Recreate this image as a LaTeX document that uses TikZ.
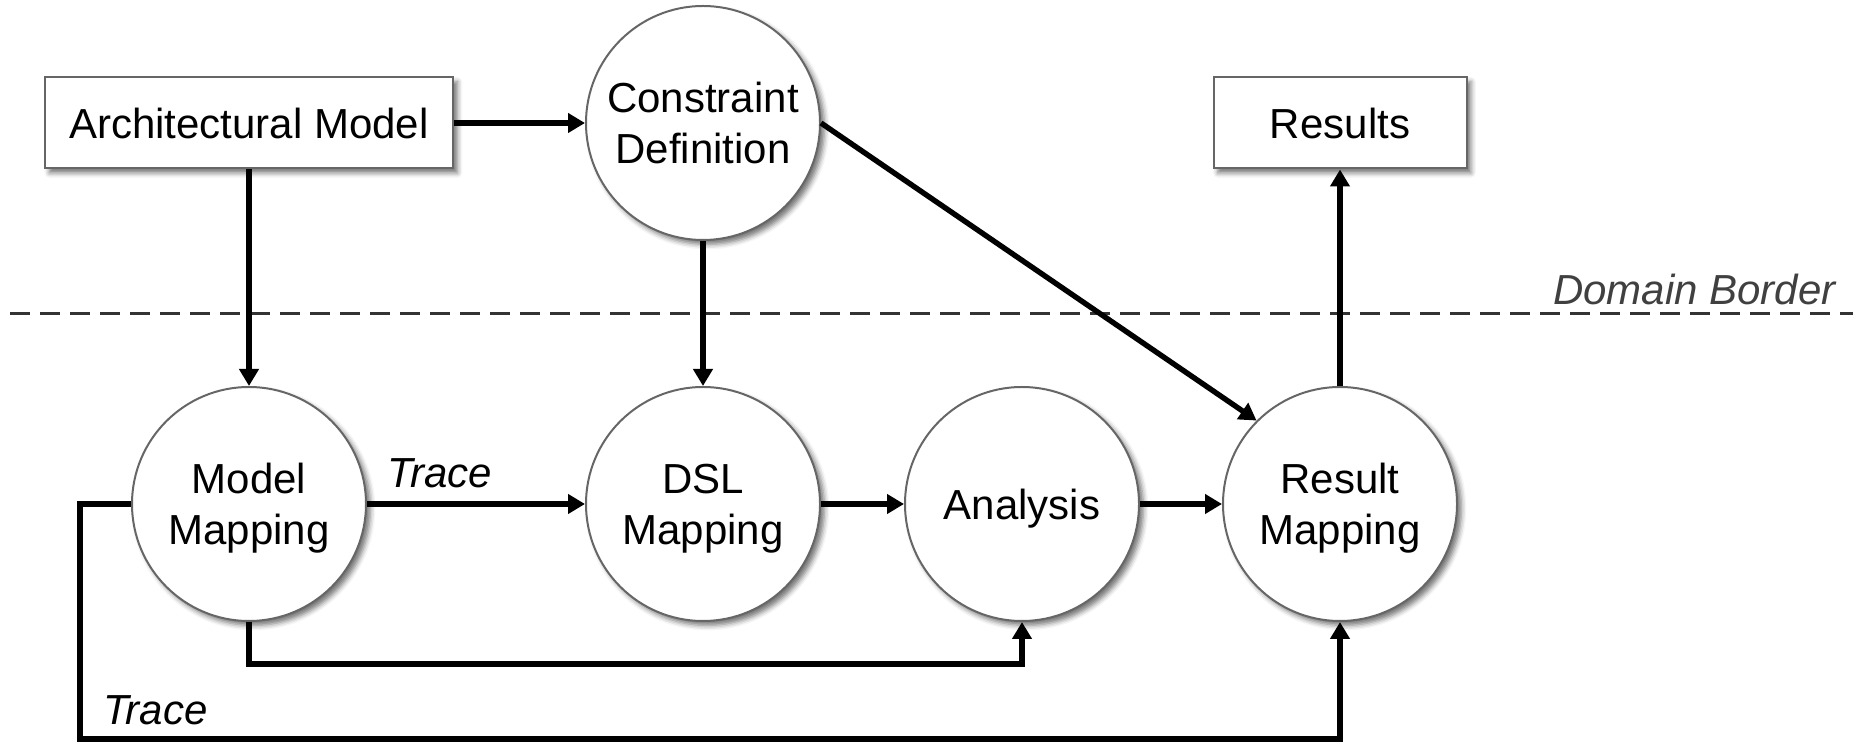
\documentclass[tikz,border=0pt]{standalone}
\usepackage{fontspec}
\setmainfont{Liberation Sans}
\usetikzlibrary{arrows.meta,shadows.blur,calc}
\begin{document}
\begin{tikzpicture}[x=0.5pt,y=-0.5pt,
  lbl/.style={font=\fontsize{21}{25.5}\selectfont, align=center, text=black},
  shd/.style={blur shadow={shadow xshift=2.2pt,shadow yshift=-2.2pt,shadow opacity=55,shadow blur radius=2.5pt}},
  boxnode/.style={lbl, shd, draw=black!60, line width=1pt, fill=white, rectangle, minimum height=45.5pt, inner sep=0pt},
  circnode/.style={lbl, shd, draw=black!60, line width=1pt, fill=white, circle, minimum size=117pt, inner sep=0pt, text depth=0pt},
  conn/.style={line width=2.7pt, draw=black, -{Triangle[length=8.5pt,width=9.5pt]}},
  tracelbl/.style={font=\fontsize{21}{25.5}\selectfont\itshape, inner sep=0pt, anchor=base west},
  border/.style={line width=1.5pt, draw=black!80, dash pattern=on 10pt off 5pt}
]
\useasboundingbox (0,0) rectangle (1853,742);

% domain border
\coordinate (dbL) at (10,314);
\coordinate (dbR) at (1853,314);
\draw[border] (dbL) -- (dbR);
\node[font=\fontsize{21}{25.5}\selectfont\itshape, text=black!75, inner sep=0pt, anchor=base east] (db) at (1836,305) {Domain Border};

% nodes
\node[boxnode, minimum width=204pt] (AM) at (249,123) {Architectural Model};
\node[boxnode, minimum width=126.5pt] (RES) at (1340,123) {Results};
\node[circnode] (CD) at (703,123) {Constraint\\Definition};
\node[circnode] (MM) at (249,504) {Model\\Mapping};
\node[circnode] (DSL) at (703,504) {DSL\\Mapping};
\node[circnode] (AN) at (1022,504) {Analysis};
\node[circnode] (RM) at (1340,504) {Result\\Mapping};

% connectors
\draw[conn] (AM.east) -- (CD.west);
\draw[conn] (AM.south) -- (MM.north);
\draw[conn] (CD.south) -- (DSL.north);
\draw[conn] (CD.east) -- (RM.135);
\draw[conn] (MM.east) -- node[tracelbl, pos=0, xshift=9pt, yshift=8pt] (t1) {Trace} (DSL.west);
\draw[conn] (DSL.east) -- (AN.west);
\draw[conn] (AN.east) -- (RM.west);
\draw[conn] (RM.north) -- (RES.south);
\draw[conn] (MM.south) -- ++(0,42) -| (AN.south);
\draw[conn] (MM.west) -- ++(-51,0) -- ++(0,235) coordinate (bl) -| (RM.south);
\node[tracelbl, xshift=11.5pt, yshift=7pt] (t2) at (bl) {Trace};
\end{tikzpicture}
\end{document}
